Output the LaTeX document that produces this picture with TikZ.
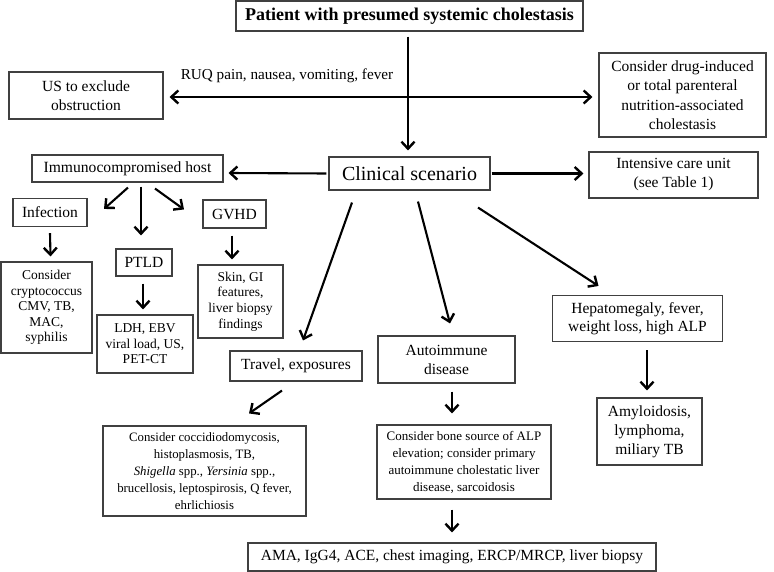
\documentclass[tikz,border=0pt]{standalone}
\usepackage{fontspec}
\setmainfont{Liberation Serif}
\usetikzlibrary{arrows.meta}
\begin{document}
\begin{tikzpicture}[x=1pt,y=-1pt,
  box/.style={draw=black!75,line width=1.1pt,align=center,inner sep=0pt,
    font=\fontsize{15.5}{19}\selectfont},
  small/.style={font=\fontsize{13.5}{15.6}\selectfont},
  smaller/.style={font=\fontsize{12.8}{17}\selectfont},
  tip/.style={Straight Barb[length=7pt,width=13pt,line width=2.4pt]},
  arr/.style={line width=2.1pt,-{Straight Barb[length=7pt,width=13pt,line width=2.4pt]}},
  dblarr/.style={line width=2.1pt,{Straight Barb[length=7pt,width=13pt,line width=2.4pt]}-{Straight Barb[length=7pt,width=13pt,line width=2.4pt]}},
  lbl/.style={font=\fontsize{15.2}{18}\selectfont,inner sep=0pt}]
\useasboundingbox (0,0) rectangle (774,572);
\fill[white] (0,0) rectangle (774,572);

\node[box,minimum width=347,minimum height=30,font=\bfseries\fontsize{18}{21}\selectfont] (title) at (409.5,16) {Patient with presumed systemic cholestasis};
\node[box,minimum width=154,minimum height=47] (us) at (86,95.5) {US to exclude\\obstruction};
\node[box,minimum width=167,minimum height=84,font=\fontsize{15.5}{19.5}\selectfont] (drug) at (682.5,95) {Consider drug-induced\\or total parenteral\\nutrition-associated\\cholestasis};
\node[box,minimum width=161,minimum height=33,font=\fontsize{20}{24}\selectfont] (clin) at (409.5,173.5) {Clinical scenario};
\node[box,minimum width=191,minimum height=27,font=\fontsize{15.6}{18}\selectfont] (immuno) at (127.5,168.5) {Immunocompromised host};
\node[box,minimum width=169,minimum height=46] (icu) at (673.5,175) {Intensive care unit\\(see Table 1)};
\node[box,minimum width=74,minimum height=28] (infect) at (50,212.5) {Infection};
\node[box,minimum width=63,minimum height=28] (gvhd) at (234.5,214) {GVHD};
\node[box,minimum width=56,minimum height=27] (ptld) at (144,262.5) {PTLD};
\node[box,small,minimum width=91,minimum height=91] (crypto) at (46.5,307.5) {Consider\\cryptococcus\\CMV, TB,\\MAC,\\syphilis};
\node[box,small,minimum width=96,minimum height=58] (ldh) at (145,344) {LDH, EBV\\viral load, US,\\PET-CT};
\node[box,small,minimum width=85,minimum height=73] (skin) at (240.5,301.5) {Skin, GI\\features,\\liver biopsy\\findings};
\node[box,minimum width=132,minimum height=30] (travel) at (296,366) {Travel, exposures};
\node[box,minimum width=137,minimum height=47] (auto) at (446.5,359.5) {Autoimmune\\disease};
\node[box,minimum width=170,minimum height=46,font=\fontsize{15.5}{18}\selectfont] (hep) at (637.5,318.5) {Hepatomegaly, fever,\\weight loss, high ALP};
\node[box,minimum width=105,minimum height=67] (amy) at (649.5,431.5) {Amyloidosis,\\lymphoma,\\miliary TB};
\node[box,smaller,minimum width=203,minimum height=90] (cocci) at (204.5,471) {Consider coccidiodomycosis,\\histoplasmosis, TB,\\\textit{Shigella} spp., \textit{Yersinia} spp.,\\brucellosis, leptospirosis, Q fever,\\ehrlichiosis};
\node[box,minimum width=174,minimum height=74,font=\fontsize{13}{17}\selectfont] (bone) at (464,462) {Consider bone source of ALP\\elevation; consider primary\\autoimmune cholestatic liver\\disease, sarcoidosis};
\node[box,minimum width=408,minimum height=28] (ama) at (452,557) {AMA, IgG4, ACE, chest imaging, ERCP/MRCP, liver biopsy};

\node[lbl] (ruq) at (287,76) {RUQ pain, nausea, vomiting, fever};

\draw[dblarr] ([xshift=6pt,yshift=-1.5pt]us.east) -- ([xshift=-6pt,yshift=-2pt]drug.west);
\draw[arr] ([xshift=-1.5pt,yshift=-5pt]title.south) -- ([xshift=-1.5pt,yshift=6pt]clin.north);
\draw[arr] ([xshift=-2pt]clin.west) -- ([xshift=5pt,yshift=-4.5pt]immuno.east);
\draw[arr] ([xshift=1pt]clin.east) -- ([xshift=-5pt,yshift=1.5pt]icu.west);
\draw[arr] ([xshift=0.5pt,yshift=-5pt]immuno.south) -- ([xshift=54pt,yshift=-11pt]infect.north);
\draw[arr] ([xshift=13.5pt,yshift=-4pt]immuno.south) -- ([xshift=-3pt,yshift=13pt]ptld.north);
\draw[arr] ([xshift=27.5pt,yshift=-6pt]immuno.south) -- ([xshift=-50.5pt,yshift=-10pt]gvhd.north);
\draw[arr] ([yshift=-6pt]infect.south) -- ([xshift=4pt,yshift=5pt]crypto.north);
\draw[arr] ([xshift=-1pt,yshift=-7pt]ptld.south) -- ([xshift=-2pt,yshift=5pt]ldh.north);
\draw[arr] ([xshift=-2.5pt,yshift=-7pt]gvhd.south) -- ([xshift=-8.5pt,yshift=5pt]skin.north);
\draw[arr] ([xshift=-57.5pt,yshift=-12pt]clin.south) -- ([xshift=7pt,yshift=10pt]travel.north);
\draw[arr] ([xshift=8.5pt,yshift=-11pt]clin.south) -- ([xshift=3.5pt,yshift=12pt]auto.north);
\draw[arr] ([xshift=68.5pt,yshift=-17pt]clin.south) -- ([xshift=-39pt,yshift=9pt]hep.north);
\draw[arr] ([xshift=9.5pt,yshift=-8pt]hep.south) -- ([xshift=-2.5pt,yshift=7pt]amy.north);
\draw[arr] ([xshift=5.5pt,yshift=-8pt]auto.south) -- ([xshift=-12pt,yshift=11pt]bone.north);
\draw[arr] ([xshift=-12pt,yshift=-10pt]bone.south) -- ([yshift=10pt]ama.north);
\draw[arr] ([xshift=-14pt,yshift=-9pt]travel.south) -- ([xshift=44.5pt,yshift=12pt]cocci.north);
\end{tikzpicture}
\end{document}
